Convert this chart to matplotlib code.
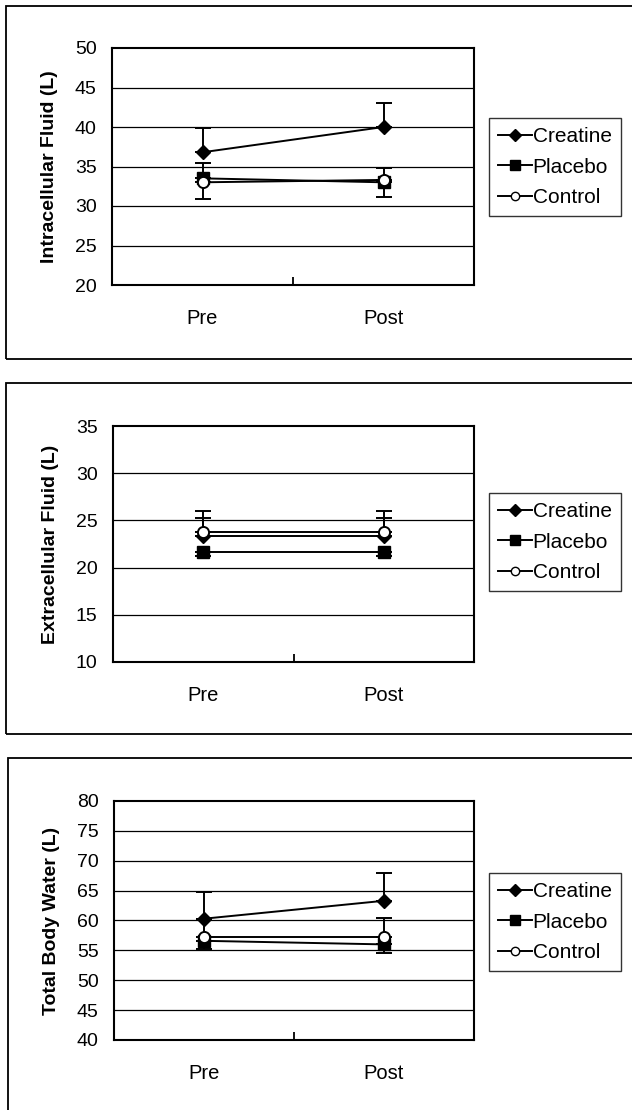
import matplotlib
matplotlib.use('Agg')
import matplotlib.pyplot as plt
from matplotlib.patches import Rectangle
from matplotlib.lines import Line2D

plt.rcParams['font.family'] = ['Liberation Sans', 'DejaVu Sans']

#
# data
#
phases = ['Pre', 'Post']
groups = ['Creatine', 'Placebo', 'Control']

icf_creatine = [36.8, 40.0]
icf_placebo = [33.5, 33.0]
icf_control = [33.0, 33.3]
icf_creatine_up = [3.1, 3.1]
icf_placebo_down = [2.6, 1.9]
icf_control_up = [2.5, 1.45]

ecf_creatine = [23.4, 23.4]
ecf_placebo = [21.7, 21.7]
ecf_control = [23.75, 23.75]
ecf_creatine_up = [2.6, 2.6]
ecf_placebo_down = [0.5, 0.5]
ecf_control_up = [1.55, 1.55]

tbw_creatine = [60.3, 63.3]
tbw_placebo = [56.6, 56.0]
tbw_control = [57.25, 57.25]
tbw_creatine_up = [4.5, 4.7]
tbw_placebo_down = [1.3, 1.5]
tbw_control_up = [3.0, 3.2]

W, H = 632, 1110
fig = plt.figure(figsize=[W / 100, H / 100], dpi=100)


def px_rect(x0, y0, x1, y1):
    return [x0 / W, 1 - y1 / H, (x1 - x0) / W, (y1 - y0) / H]


def draw_panel(frame, plot_box, legend_y, ylabel, ylim, yticks,
               creatine, placebo, control, c_up, p_down, k_up):
    # outer frame around the panel
    fx0, fy0, fx1, fy1 = frame
    fig.patches.append(Rectangle((fx0 / W, 1 - fy1 / H), (fx1 - fx0) / W, (fy1 - fy0) / H,
                                 transform=fig.transFigure, fill=False, edgecolor='black',
                                 linewidth=1.3))
    ax = fig.add_axes(px_rect(*plot_box))
    x = [0, 1]
    zeros = [0, 0]
    ax.errorbar(x, creatine, yerr=[zeros, c_up], color='black', lw=1.4, marker='D',
                markersize=7, markerfacecolor='black', capsize=6, capthick=1.4,
                elinewidth=1.4, zorder=3)
    ax.errorbar(x, placebo, yerr=[p_down, zeros], color='black', lw=1.4, marker='s',
                markersize=8, markerfacecolor='black', capsize=6, capthick=1.4,
                elinewidth=1.4, zorder=4)
    ax.errorbar(x, control, yerr=[zeros, k_up], color='black', lw=1.4, marker='o',
                markersize=8, markerfacecolor='white', markeredgewidth=1.4,
                capsize=6, capthick=1.4, elinewidth=1.4, zorder=5)
    ax.set_xlim(-0.5, 1.5)
    ax.set_ylim(*ylim)
    ax.set_yticks(yticks)
    ax.set_xticks(x)
    ax.set_xticklabels(phases)
    ax.set_xticks([0.5], minor=True)
    ax.tick_params(axis='x', which='major', length=0, pad=17, labelsize=14.5)
    ax.tick_params(axis='x', which='minor', direction='in', length=6, width=1.3)
    ax.tick_params(axis='y', length=0, pad=11, labelsize=14)
    for yv in yticks[1:-1]:
        ax.axhline(yv, color='black', lw=0.9, zorder=1)
    for s in ax.spines.values():
        s.set_linewidth(1.5)
    ax.set_ylabel(ylabel, fontsize=14, fontweight='bold', labelpad=12)
    handles = [
        Line2D([], [], color='black', lw=1.4, marker='D', markersize=6, markerfacecolor='black'),
        Line2D([], [], color='black', lw=1.4, marker='s', markersize=7, markerfacecolor='black'),
        Line2D([], [], color='black', lw=1.4, marker='o', markersize=6, markerfacecolor='white'),
    ]
    leg = fig.legend(handles, groups, loc='center left',
                     bbox_to_anchor=(489 / W, 1 - legend_y / H), fontsize=15,
                     frameon=True, fancybox=False, edgecolor='black', handlelength=1.6,
                     handletextpad=0.05, borderpad=0.45, labelspacing=0.55, borderaxespad=0)
    leg.get_frame().set_linewidth(1.0)
    return ax


draw_panel((6, 6, 640, 359), (112, 48, 474, 285), 167, 'Intracellular Fluid (L)',
           (20, 50), [20, 25, 30, 35, 40, 45, 50],
           icf_creatine, icf_placebo, icf_control,
           icf_creatine_up, icf_placebo_down, icf_control_up)

draw_panel((6, 383, 640, 734), (113, 426, 474, 662), 542, 'Extracellular Fluid (L)',
           (10, 35), [10, 15, 20, 25, 30, 35],
           ecf_creatine, ecf_placebo, ecf_control,
           ecf_creatine_up, ecf_placebo_down, ecf_control_up)

draw_panel((8, 758, 640, 1120), (114, 801, 474, 1040), 922, 'Total Body Water (L)',
           (40, 80), [40, 45, 50, 55, 60, 65, 70, 75, 80],
           tbw_creatine, tbw_placebo, tbw_control,
           tbw_creatine_up, tbw_placebo_down, tbw_control_up)

plt.savefig('out.png', dpi=100)
plt.close()
